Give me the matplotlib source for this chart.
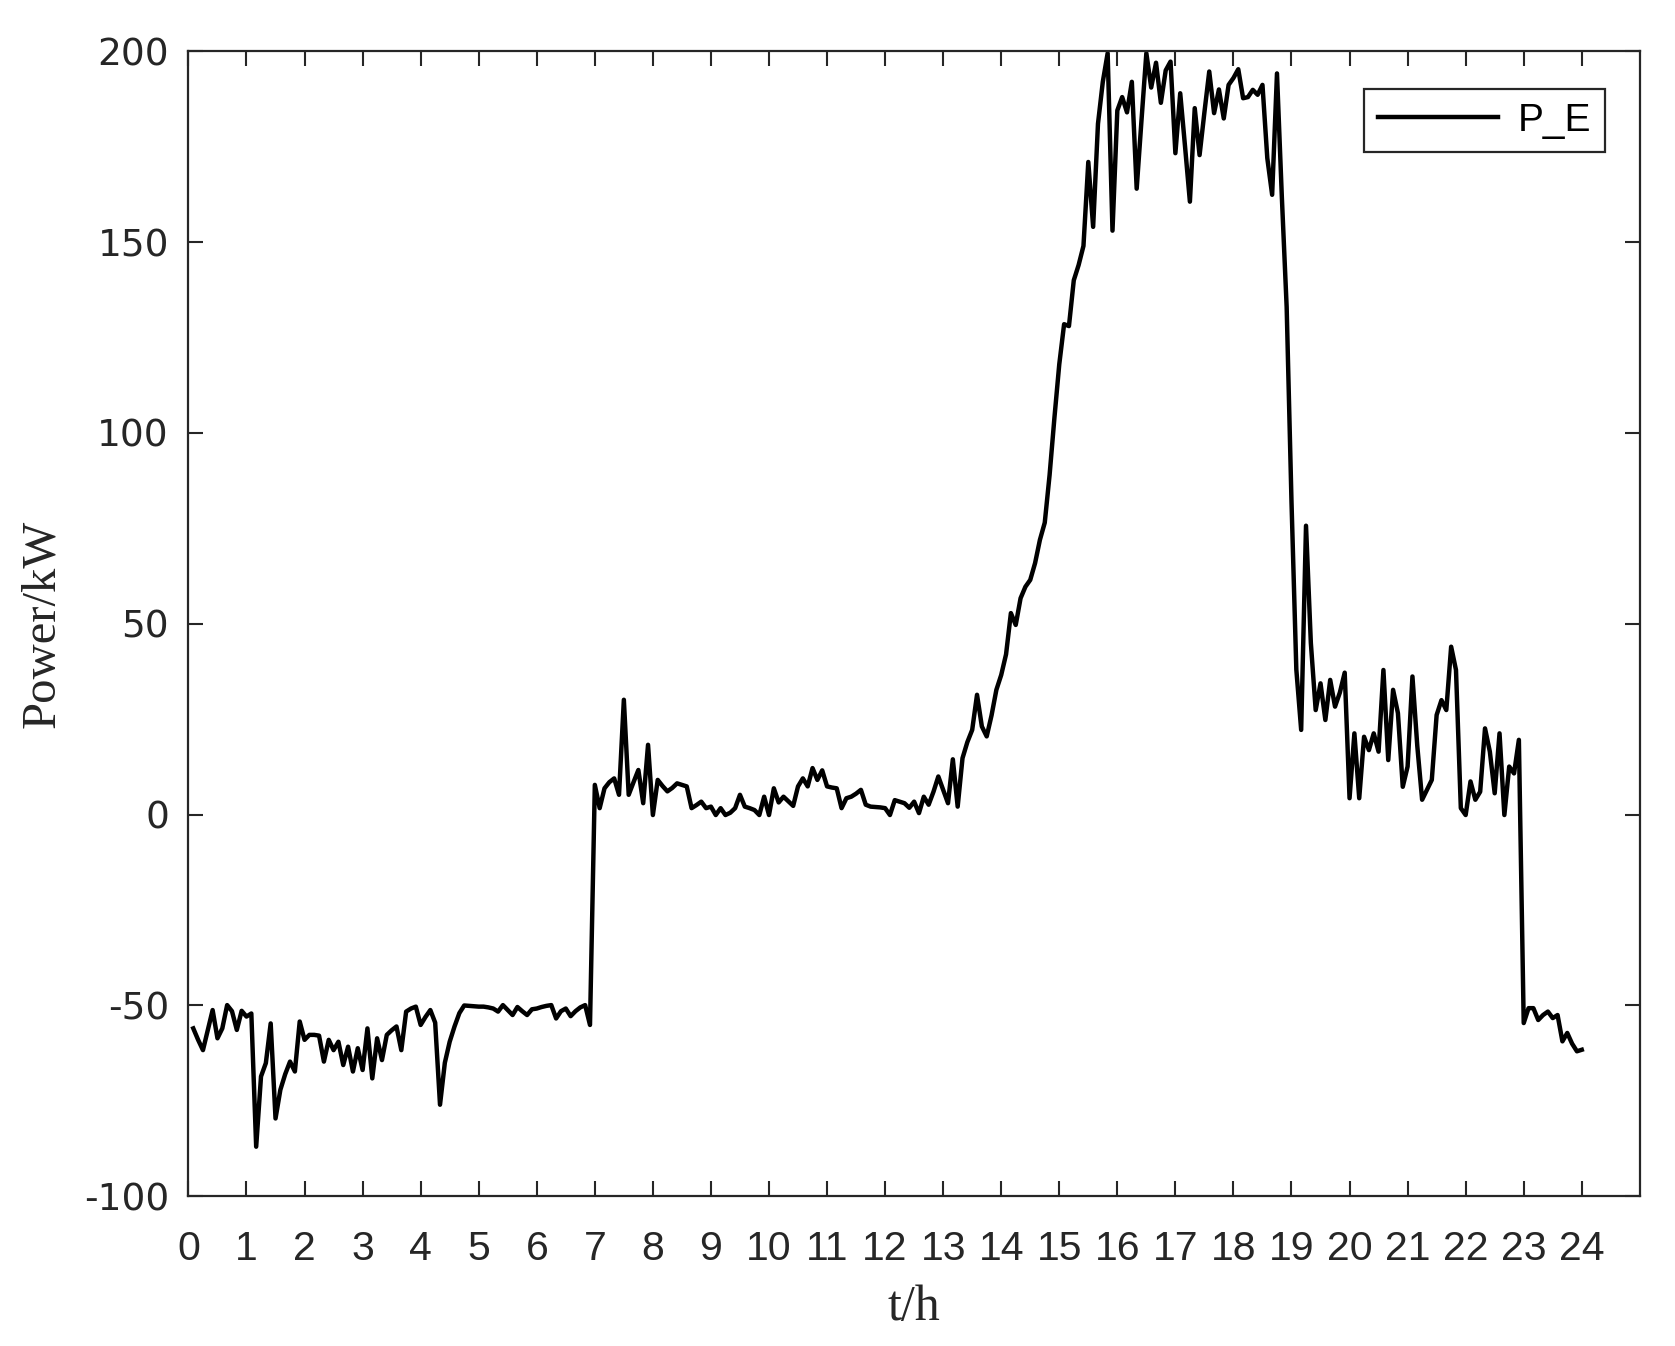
import numpy as np
import matplotlib
matplotlib.use("Agg")
import matplotlib.pyplot as plt
from matplotlib import font_manager

plt.rcParams["axes.unicode_minus"] = False

# ---------------- data (5-minute samples, one row per hour) ----------------
hour00 = [-56, -59, -61.7, -56.5, -51.2, -58.6, -56, -49.9, -51.5, -56.4, -51.4, -52.9]
hour01 = [-52.1, -87, -68.6, -65.1, -54.7, -79.6, -72.1, -68, -64.7, -67.3, -54.2, -59]
hour02 = [-57.7, -57.7, -57.9, -64.7, -59, -61.7, -59.5, -65.6, -60.8, -67.3, -61.2, -66.9]
hour03 = [-56, -69.1, -58.6, -64.3, -57.7, -56.5, -55.5, -61.7, -51.6, -50.8, -50.3, -55.1]
hour04 = [-53, -51.2, -54.5, -76, -65, -59.5, -55.5, -52, -50, -50.1, -50.2, -50.3]
hour05 = [-50.3, -50.5, -50.8, -51.6, -49.9, -51.2, -52.5, -50.4, -51.5, -52.5, -51, -50.8]
hour06 = [-50.4, -50.1, -49.9, -53.4, -51.5, -50.8, -52.8, -51.5, -50.5, -49.9, -55.1, 7.8]
hour07 = [1.7, 6.9, 8.5, 9.5, 5.2, 30.1, 5.2, 8.5, 11.7, 3.0, 18.3, -0.1]
hour08 = [9.1, 7.5, 6.1, 7, 8.2, 7.8, 7.4, 1.7, 2.5, 3.4, 1.7, 2.1]
hour09 = [-0.1, 1.7, -0.1, 0.5, 1.7, 5.2, 2.1, 1.7, 1.2, -0.1, 4.7, -0.1]
hour10 = [6.9, 3.2, 4.7, 3.5, 2.3, 7.4, 9.5, 7.4, 12.2, 9.1, 11.6, 7.4]
hour11 = [7.1, 6.9, 1.7, 4.3, 4.7, 5.5, 6.5, 2.6, 2.1, 2.0, 1.9, 1.7]
hour12 = [-0.1, 3.8, 3.4, 3.0, 1.8, 3.4, 0.4, 4.7, 2.6, 6.0, 10.0, 6.5]
hour13 = [3.0, 14.5, 2.1, 14.8, 19, 22.2, 31.4, 23.1, 20.5, 26, 32.7, 36.6]
hour14 = [42, 52.8, 49.7, 56.7, 59.7, 61.5, 65.9, 72, 76.5, 89, 104, 118]
hour15 = [128.5, 128, 140, 144, 149, 171, 154, 181, 192, 199.5, 153, 184.5]
hour16 = [188, 184, 192, 164, 182, 199.5, 190.5, 197, 186.5, 195, 197.3, 173.3]
hour17 = [189, 175, 160.6, 185.1, 172.8, 184, 194.7, 183.8, 190, 182.4, 191.2, 193]
hour18 = [195.3, 187.7, 188, 189.9, 188.6, 191.2, 172, 162.4, 194.2, 162, 133, 82]
hour19 = [38, 22.2, 75.7, 45, 27.4, 34.4, 24.8, 35.3, 28.3, 32, 37.2, 4.3]
hour20 = [21.3, 4.3, 20.4, 16.9, 21.3, 16.5, 37.9, 14.3, 32.7, 26.6, 7.3, 12.6]
hour21 = [36.2, 18, 3.9, 6.5, 9.1, 26.1, 30.0, 27.4, 44, 37.9, 1.7, -0.1]
hour22 = [8.7, 3.9, 6.0, 22.6, 16.5, 5.6, 21.3, -0.1, 12.6, 10.8, 19.6, -54.6]
hour23 = [-50.7, -50.7, -53.8, -52.5, -51.6, -53.3, -52.5, -59.4, -57.2, -60, -62.0, -61.6]

p_e = np.concatenate([hour00, hour01, hour02, hour03, hour04, hour05, hour06, hour07,
                      hour08, hour09, hour10, hour11, hour12, hour13, hour14, hour15,
                      hour16, hour17, hour18, hour19, hour20, hour21, hour22, hour23])
t = np.arange(1, len(p_e) + 1) / 12.0   # time in hours

x_ticks = list(range(0, 25))
y_ticks = [-100, -50, 0, 50, 100, 150, 200]
series_label = "P_E"
x_label = "t/h"
y_label = "Power/kW"

# ---------------- fonts ----------------
available = {f.name for f in font_manager.fontManager.ttflist}
narrow = "Liberation Sans Narrow" if "Liberation Sans Narrow" in available else "Liberation Sans"

# ---------------- plot ----------------
fig = plt.figure(figsize=(16.75, 13.46), dpi=100)
ax = fig.add_axes([0.1125, 0.1112, 0.8665, 0.8507])

ax.plot(t, p_e, color="black", linewidth=3.2, label=series_label)

ax.set_xlim(0, 25)
ax.set_ylim(-100, 200)
ax.set_xticks(x_ticks)
ax.set_yticks(y_ticks)

spine_color = "#262626"
for s in ax.spines.values():
    s.set_linewidth(1.6)
    s.set_color(spine_color)

ax.tick_params(direction="in", top=True, right=True, length=10.5, width=1.5,
               colors=spine_color)
ax.tick_params(axis="x", pad=24)
ax.tick_params(axis="y", pad=14)

for lbl in ax.get_xticklabels():
    lbl.set_fontfamily(narrow)
    lbl.set_fontsize(29.5)
for lbl in ax.get_yticklabels():
    lbl.set_fontfamily("DejaVu Sans")
    lbl.set_fontsize(27)

ax.set_xlabel(x_label, fontfamily="Liberation Serif", fontsize=36, color=spine_color,
              labelpad=12)
ax.set_ylabel(y_label, fontfamily="Liberation Serif", fontsize=35, color=spine_color,
              labelpad=14)

leg = ax.legend(loc="upper right", bbox_to_anchor=(0.9582, 0.9339),
                bbox_transform=fig.transFigure, fancybox=False, framealpha=1,
                edgecolor=spine_color, handlelength=3.1, handletextpad=0.5,
                borderpad=0.35, borderaxespad=0,
                prop={"family": "Liberation Sans", "size": 28})
leg.get_frame().set_linewidth(1.6)

fig.savefig("out.png", dpi=100)
